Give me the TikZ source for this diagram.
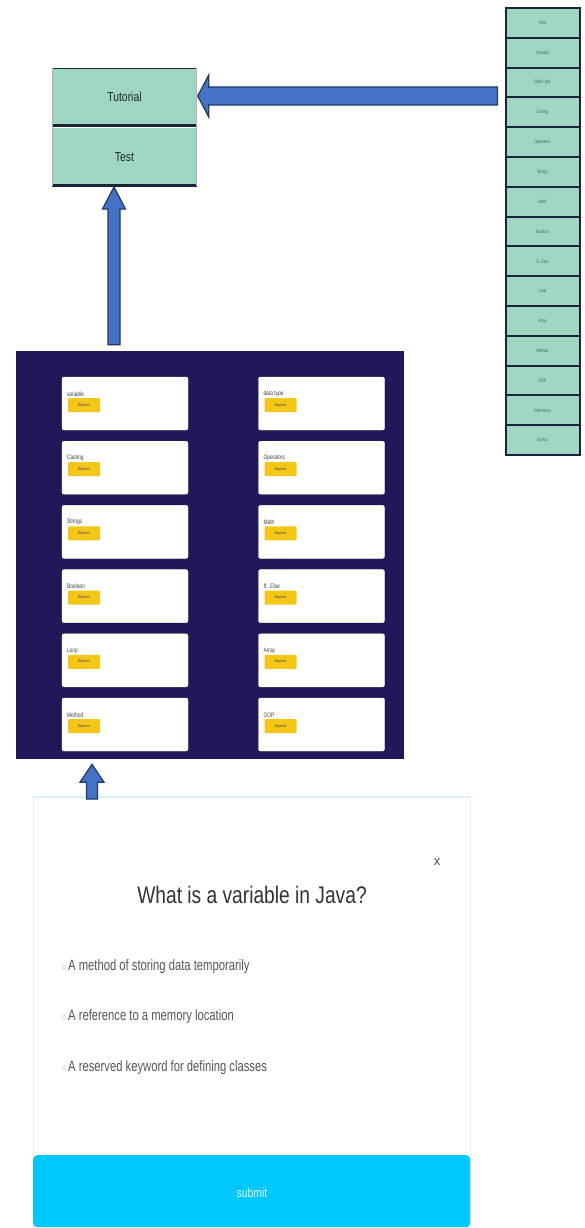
\documentclass[tikz,border=0pt]{standalone}
\usepackage{fontspec}
\setmainfont{Liberation Sans}
\usepackage{graphicx}
\usetikzlibrary{calc}
\definecolor{boxgreen}{HTML}{9ED6C3}
\definecolor{navyline}{HTML}{1A2438}
\definecolor{arrowblue}{HTML}{4472C4}
\definecolor{arrowedge}{HTML}{1F3864}
\definecolor{panelbg}{HTML}{21185A}
\definecolor{badge}{HTML}{F5C518}
\definecolor{cyanbar}{HTML}{00C8FF}
\definecolor{optgray}{HTML}{555555}
\definecolor{listtxt}{HTML}{3F6B58}
\newcommand{\nar}[2][0.8]{\scalebox{#1}[1]{#2}}
\newcommand{\ifelse}{If...Else}
\begin{document}
\begin{tikzpicture}[x=1pt,y=-1pt,
  menubox/.style={draw=none,fill=boxgreen,minimum width=144pt,minimum height=57pt,inner sep=0pt,font=\fontsize{13}{13}\selectfont\color{black!85}},
  listbox/.style={fill=boxgreen,draw=navyline,line width=2pt,minimum width=74pt,minimum height=29.8pt,inner sep=0pt,font=\fontsize{5}{5}\selectfont\color{listtxt}},
  card/.style={fill=white,draw=yellow!15,rounded corners=2pt,minimum width=126pt,minimum height=53pt,inner sep=0pt},
  cardlbl/.style={anchor=west,inner sep=0pt,font=\fontsize{6.5}{6.5}\selectfont\color{black!75}},
  badgebox/.style={fill=badge,rounded corners=1pt,anchor=north west,minimum width=32pt,minimum height=14pt,inner sep=0pt,font=\fontsize{4}{4}\selectfont\color{black!70}},
  blockarrow/.style={fill=arrowblue,draw=arrowedge,line width=1.2pt,line join=miter},
  opt/.style={anchor=west,inner sep=0pt,font=\fontsize{15}{15}\selectfont\color{optgray}}]
\useasboundingbox (0,0) rectangle (584,1228);
\fill[white] (0,0) rectangle (584,1228);

% Tutorial / Test
\node[menubox] (tut) at (124.5,97) {\nar{Tutorial}};
\node[menubox] (test) at (124.5,157) {\nar{Test}};
\draw[navyline,line width=1pt] (tut.north west) -- (tut.north east);
\draw[navyline,line width=3pt] (tut.south west) -- (tut.south east);
\draw[navyline,line width=3pt] (test.south west) -- (test.south east);
\draw[black!30,line width=0.6pt] (tut.north west) -- (test.south west);
\draw[black!30,line width=0.6pt] (tut.north east) -- (test.south east);

% right list
\foreach \t [count=\i] in {Intro,Variable,Data Type,Casting,Operators,Strings,Math,Boolean,\ifelse,Loop,Array,Method,OOP,Inheritance,Syntax}{
  \node[listbox] (l\i) at (542.5,{8+29.8*(\i-0.5)}) {\nar[0.7]{\t}};
}

% arrow from list to tutorial
\coordinate (h1) at ($(tut.east)+(1,-1)$);
\coordinate (e1) at ($(h1 -| l1.west)+(-7,0)$);
\draw[blockarrow] (h1) -- ($(h1)+(11,-21)$) -- ($(h1)+(11,-9)$)
  -- ($(e1)+(0,-9)$) -- ($(e1)+(0,9)$) -- ($(h1)+(11,9)$) -- ($(h1)+(11,21)$) -- cycle;

% dark panel
\node[fill=panelbg,minimum width=388pt,minimum height=408pt,inner sep=0pt] (panel) at (210,555) {};

% cards
\foreach \lt/\rt [count=\i] in {variable/data type,Casting/Operators,Strings/Math,Boolean/\ifelse,Loop/Array,Method/OOP}{
  \pgfmathsetmacro{\cy}{377+64.2*(\i-1)+26.5}
  \node[card] (cl\i) at (125,\cy) {};
  \node[card] (cr\i) at (321.5,\cy) {};
  \node[cardlbl] (tl\i) at ($(cl\i.north west)+(5,17)$) {\nar[0.75]{\lt}};
  \node[badgebox] (bl\i) at ($(cl\i.north west)+(6,21)$) {\nar[0.75]{Beginner}};
  \node[cardlbl] (tr\i) at ($(cr\i.north west)+(5,17)$) {\nar[0.75]{\rt}};
  \node[badgebox] (br\i) at ($(cr\i.north west)+(6,21)$) {\nar[0.75]{Beginner}};
}

% arrow from panel to test
\coordinate (h2) at (114,187);
\coordinate (e2) at ($(panel.north -| h2)+(0,-6)$);
\draw[blockarrow] (h2) -- ($(h2)+(11.5,22)$) -- ($(h2)+(6,22)$)
  -- ($(e2)+(6,0)$) -- ($(e2)+(-6,0)$) -- ($(h2)+(-6,22)$) -- ($(h2)+(-11.5,22)$) -- cycle;

% quiz panel
\node[fill=white,draw=black!8,line width=1pt,minimum width=437pt,minimum height=431pt,inner sep=0pt,anchor=north west] (quiz) at (33,797) {};
\draw[cyan!15,line width=1.5pt] (quiz.north west) -- (quiz.north east);
\node[inner sep=0pt,font=\fontsize{24}{24}\selectfont\color{black!80}] (title) at (252,895) {\nar{What is a variable in Java?}};
\node[inner sep=0pt,font=\fontsize{13}{13}\selectfont\color{black!70}] (close) at (437,862) {x};
\node[opt] (o1) at (62,967) {\nar[0.75]{\textcolor{black!35}{\fontsize{11}{11}\selectfont$\circ$}\,A method of storing data temporarily}};
\node[opt] (o2) at (62,1017) {\nar[0.75]{\textcolor{black!35}{\fontsize{11}{11}\selectfont$\circ$}\,A reference to a memory location}};
\node[opt] (o3) at (62,1068) {\nar[0.75]{\textcolor{black!35}{\fontsize{11}{11}\selectfont$\circ$}\,A reserved keyword for defining classes}};
\node[fill=cyanbar,rounded corners=4pt,minimum width=437pt,minimum height=72pt,inner sep=0pt,anchor=north west] (submit) at (33,1155) {};
\node[inner sep=0pt,font=\fontsize{13}{13}\selectfont\color{white!90!cyan}] (subtxt) at (252,1193) {\nar{submit}};

% arrow from quiz to panel
\coordinate (h3) at ($(panel.south -| 92,0)+(0,5)$);
\coordinate (e3) at ($(quiz.north -| h3)+(0,2)$);
\draw[blockarrow] (h3) -- ($(h3)+(12,18)$) -- ($(h3)+(5.5,18)$)
  -- ($(e3)+(5.5,0)$) -- ($(e3)+(-5.5,0)$) -- ($(h3)+(-5.5,18)$) -- ($(h3)+(-12,18)$) -- cycle;
\end{tikzpicture}
\end{document}
